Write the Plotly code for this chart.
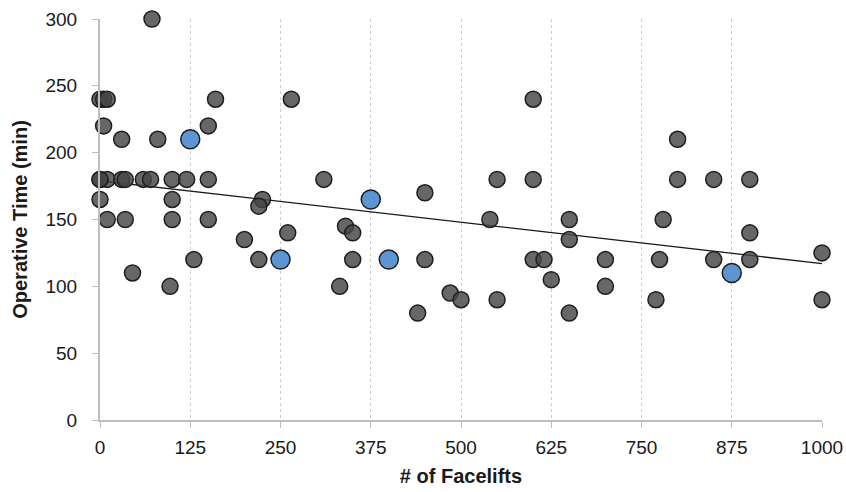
import plotly.graph_objects as go

# Gray points: number of facelifts vs operative time (min)
gray_x = [0, 0, 0, 5, 10, 5, 10, 10,
          30, 35, 60, 70, 100, 120, 150,
          100, 35, 100, 150,
          200, 225, 220, 130, 220, 45, 97,
          72, 160, 150, 30, 80,
          265, 310, 450, 550, 540, 260, 340, 350, 350, 450,
          600, 600, 800, 800, 650, 650, 780, 600, 615, 700, 775, 625, 700, 550, 770, 650,
          850, 900, 900, 850, 900, 1000, 1000,
          332, 485, 500, 440, 0]
gray_y = [165, 180, 240, 240, 240, 220, 180, 150,
          180, 180, 180, 180, 180, 180, 180,
          165, 150, 150, 150,
          135, 165, 160, 120, 120, 110, 100,
          300, 240, 220, 210, 210,
          240, 180, 170, 180, 150, 140, 145, 140, 120, 120,
          240, 180, 210, 180, 150, 135, 150, 120, 120, 120, 120, 105, 100, 90, 90, 80,
          180, 180, 140, 120, 120, 125, 90,
          100, 95, 90, 80, 180]

# Highlighted (blue) points
blue_x = [125, 250, 375, 400, 875]
blue_y = [210, 120, 165, 120, 110]

# Trend line endpoints
trend_x = [0, 1000]
trend_y = [179, 117]

x_ticks = [0, 125, 250, 375, 500, 625, 750, 875, 1000]
y_ticks = [0, 50, 100, 150, 200, 250, 300]

fig = go.Figure()
fig.add_trace(go.Scatter(
    x=trend_x, y=trend_y, mode="lines",
    line=dict(color="#1a1a1a", width=1.3), hoverinfo="skip", cliponaxis=False))
fig.add_trace(go.Scatter(
    x=gray_x, y=gray_y, mode="markers", cliponaxis=False,
    marker=dict(size=16, color="rgba(70,70,70,0.82)",
                line=dict(color="#1e1e1e", width=1.5))))
fig.add_trace(go.Scatter(
    x=blue_x, y=blue_y, mode="markers", cliponaxis=False,
    marker=dict(size=19, color="#5b96d2",
                line=dict(color="#1e1e1e", width=1.5))))

font_family = "Liberation Sans, Arial, Helvetica, sans-serif"
fig.update_layout(
    width=846, height=492,
    margin=dict(l=100, r=24, t=19, b=72, autoexpand=False),
    paper_bgcolor="white", plot_bgcolor="white",
    showlegend=False,
    font=dict(family=font_family, size=19, color="#1a1a1a"),
    xaxis=dict(
        range=[0, 1000], tickvals=x_ticks, ticktext=[str(v) for v in x_ticks],
        showgrid=True, gridcolor="#cccccc", gridwidth=1, griddash="dot",
        zeroline=False, showline=True, linecolor="#bdbdbd", linewidth=2,
        ticks="outside", ticklen=6, tickcolor="#bdbdbd", tickwidth=1,
        tickfont=dict(size=19), ticklabelstandoff=3,
        title=dict(text="<b># of Facelifts</b>", font=dict(size=20), standoff=12),
        automargin=False,
    ),
    yaxis=dict(
        range=[0, 300], tickvals=y_ticks, ticktext=[str(v) for v in y_ticks],
        showgrid=False, zeroline=False, showline=True, linecolor="#bdbdbd", linewidth=2,
        ticks="outside", ticklen=6, tickcolor="#bdbdbd", tickwidth=1,
        tickfont=dict(size=19), ticklabelstandoff=11,
        title=dict(text="<b>Operative Time (min)</b>", font=dict(size=20), standoff=12),
        automargin=False,
    ),
)

fig.write_html("out.html")
